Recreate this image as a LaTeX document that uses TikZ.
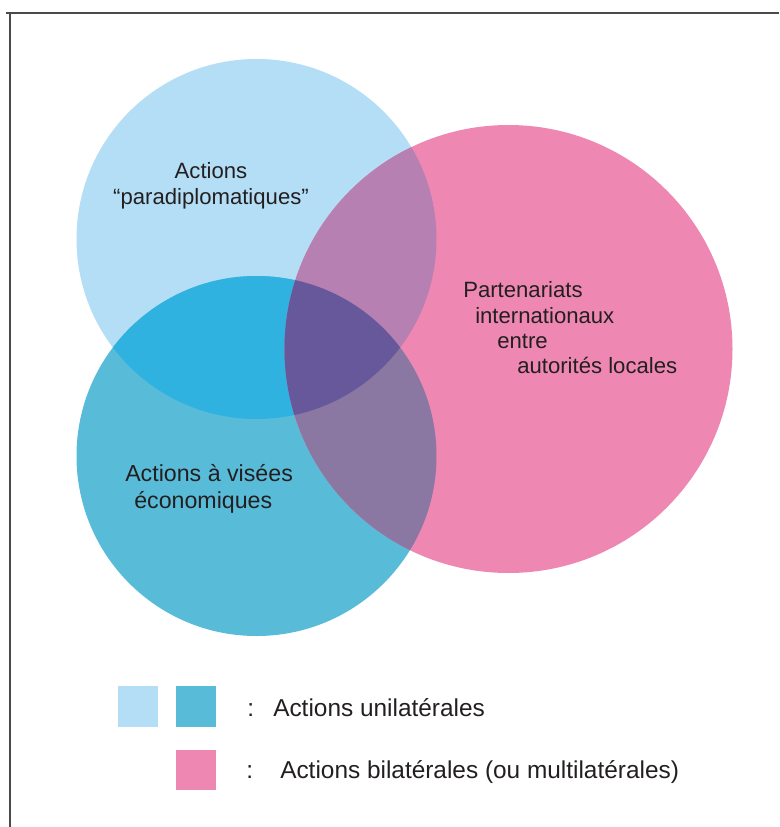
\documentclass[tikz,border=0pt]{standalone}
\usepackage{fontspec}
\setmainfont{Liberation Sans}
\usepackage{xcolor}
\usetikzlibrary{positioning}
\definecolor{ink}{HTML}{231F20}
\definecolor{frame}{HTML}{4A4A4A}
\definecolor{lightblue}{HTML}{B3DEF5}
\definecolor{darkblue}{HTML}{58BCD9}
\definecolor{rose}{HTML}{EE88B3}
\definecolor{blueblue}{HTML}{30B2E1}
\definecolor{lightrose}{HTML}{B680B2}
\definecolor{darkrose}{HTML}{8A77A2}
\definecolor{allthree}{HTML}{67589B}
\tikzset{
  edge/.style   = {draw=frame, line width=1.5pt},
  lbl/.style    = {font=\fontsize{16.6}{19.5}\selectfont, text=ink, inner sep=0pt},
  lblw/.style   = {lbl, anchor=base west},
  lblbig/.style = {lblw, font=\fontsize{17.4}{20}\selectfont},
  keytxt/.style = {font=\fontsize{18.3}{22}\selectfont, text=ink, inner sep=0pt, anchor=base west},
  key/.style    = {minimum width=30pt, minimum height=30.5pt, inner sep=0pt},
}
% circles (centres and radii in pixel units of the picture)
\newcommand{\upcirc}{(256.5,239) circle[radius=135pt]}
\newcommand{\lowcirc}{(256.5,456) circle[radius=135pt]}
\newcommand{\rosecirc}{(508.5,349) circle[radius=168pt]}

\begin{document}
\begin{tikzpicture}[x=0.75pt,y=-0.75pt]
  \useasboundingbox (0,0) rectangle (779,827);
  % frame: top and left only
  \draw[edge] (6,13.5) -- (779,13.5);
  \draw[edge] (10,13.5) -- (10,827);

  % ---------- circles ----------
  \fill[lightblue] \upcirc;
  \fill[darkblue] \lowcirc;
  \fill[rose] \rosecirc;
  \begin{scope}
    \clip \upcirc;
    \fill[blueblue] \lowcirc;
    \fill[lightrose] \rosecirc;
  \end{scope}
  \begin{scope}
    \clip \lowcirc;
    \fill[darkrose] \rosecirc;
  \end{scope}
  \begin{scope}
    \clip \upcirc;
    \clip \lowcirc;
    \fill[allthree] \rosecirc;
  \end{scope}

  % ---------- labels ----------
  \node[lbl, align=center] (para) at (211,186) {Actions\\``paradiplomatiques''};
  \node[lblw] (part1) at (463,297) {Partenariats};
  \node[lblw] (part2) at (475,323) {internationaux};
  \node[lblw] (part3) at (497,348) {entre};
  \node[lblw] (part4) at (517,373) {autorités locales};
  \node[lblbig] (eco1) at (125,481) {Actions à visées};
  \node[lblbig] (eco2) at (134,508) {économiques};

  % ---------- legend ----------
  \node[key, fill=lightblue] (keyup) at (138,706.5) {};
  \node[key, fill=darkblue, right=12.75pt of keyup] (keylow) {};
  \node[key, fill=rose] (keyrose) at (196,770) {};
  \node[keytxt] (col1) at (247,716) {:};
  \node[keytxt] (uni) at (273,716) {Actions unilatérales};
  \node[keytxt] (col2) at (246,778) {:};
  \node[keytxt] (bi) at (280,778) {Actions bilatérales (ou multilatérales)};
\end{tikzpicture}
\end{document}
